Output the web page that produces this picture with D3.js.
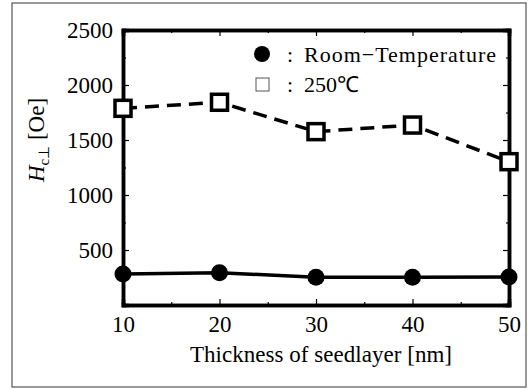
<!DOCTYPE html>
<html><head><meta charset="utf-8">
<script src="https://cdn.jsdelivr.net/npm/d3@7"></script>
<style>body{margin:0;background:#fff;}svg{display:block;} svg text{font-family:"Liberation Serif","Times New Roman",serif !important;}</style>
</head><body><div id="c"></div>
<script>
const thickness = [10, 20, 30, 40, 50];
const roomTemp = [282, 294, 252, 252, 255];
const temp250 = [1788, 1843, 1576, 1636, 1303];
const yTicks = [500, 1000, 1500, 2000, 2500];
const xTicks = [10, 20, 30, 40, 50];
const legendLabels = ["Room\u2212Temperature", "250\u2103"];

const W = 529, H = 389;
const m = {l:123, t:30, r:509, b:305};
const FS = 23;
const FF = "Liberation Serif, serif";
const svg = d3.select("#c").append("svg").attr("width", W).attr("height", H).attr("font-family", FF);

svg.append("rect").attr("x",12).attr("y",3).attr("width",514).attr("height",384)
  .attr("fill","none").attr("stroke","#555").attr("stroke-width",1.2);

const x = d3.scaleLinear().domain([10,50]).range([m.l, m.r]);
const y = d3.scaleLinear().domain([0,2500]).range([m.b, m.t]);

const minorX = d3.range(15, 50, 10);
const minorY = d3.range(250, 2500, 500);

const g = svg.append("g");
g.append("g").attr("transform",`translate(0,${m.b})`)
  .call(d3.axisBottom(x).tickValues(xTicks).tickSize(-6).tickPadding(11).tickFormat(d3.format("d")));
g.append("g").attr("transform",`translate(0,${m.t})`)
  .call(d3.axisTop(x).tickValues(xTicks).tickSize(-6).tickFormat(""));
g.append("g").attr("transform",`translate(${m.l},0)`)
  .call(d3.axisLeft(y).tickValues(yTicks).tickSize(-6).tickPadding(10).tickFormat(d3.format("d")));
g.append("g").attr("transform",`translate(${m.r},0)`)
  .call(d3.axisRight(y).tickValues(yTicks).tickSize(-6).tickFormat(""));
g.append("g").attr("transform",`translate(0,${m.b})`).call(d3.axisBottom(x).tickValues(minorX).tickSize(-3).tickFormat(""));
g.append("g").attr("transform",`translate(0,${m.t})`).call(d3.axisTop(x).tickValues(minorX).tickSize(-3).tickFormat(""));
g.append("g").attr("transform",`translate(${m.l},0)`).call(d3.axisLeft(y).tickValues(minorY).tickSize(-3).tickFormat(""));
g.append("g").attr("transform",`translate(${m.r},0)`).call(d3.axisRight(y).tickValues(minorY).tickSize(-3).tickFormat(""));

g.selectAll("g").attr("font-family", FF);
g.selectAll(".domain").attr("stroke","#000").attr("stroke-width",3.5);
g.selectAll(".tick line").attr("stroke","#000").attr("stroke-width",1.2);
g.selectAll(".tick text").attr("font-size",FS).attr("fill","#000").attr("font-family",FF);

const line = d3.line().x((d,i)=>x(thickness[i])).y(d=>y(d));
svg.append("path").datum(roomTemp).attr("d",line).attr("fill","none").attr("stroke","#000").attr("stroke-width",3.5);
svg.append("path").datum(temp250).attr("d",line).attr("fill","none").attr("stroke","#000").attr("stroke-width",3.5).attr("stroke-dasharray","14,8");

svg.selectAll(".rt").data(roomTemp).join("circle").attr("cx",(d,i)=>x(thickness[i])).attr("cy",d=>y(d)).attr("r",8.5).attr("fill","#000");
svg.selectAll(".t250").data(temp250).join("rect").attr("x",(d,i)=>x(thickness[i])-8).attr("y",d=>y(d)-8)
  .attr("width",16).attr("height",16).attr("fill","#fff").attr("stroke","#000").attr("stroke-width",3.5);

svg.append("circle").attr("cx",262).attr("cy",54).attr("r",8).attr("fill","#000");
svg.append("rect").attr("x",256).attr("y",78).attr("width",13).attr("height",13).attr("fill","none").attr("stroke","#555").attr("stroke-width",1);
svg.append("text").attr("x",287).attr("y",62).attr("font-size",22).text(":");
svg.append("text").attr("x",287).attr("y",92).attr("font-size",22).text(":");
svg.append("text").attr("x",304).attr("y",62).attr("font-size",22).attr("textLength",192).attr("lengthAdjust","spacing").text(legendLabels[0]);
svg.append("text").attr("x",304).attr("y",92).attr("font-size",22).text(legendLabels[1]);

svg.append("text").attr("x",321).attr("y",362).attr("text-anchor","middle").attr("font-size",FS).attr("textLength",262).attr("lengthAdjust","spacing").text("Thickness of seedlayer [nm]");
const yl = svg.append("text").attr("transform","translate(44,140) rotate(-90)").attr("text-anchor","middle").attr("font-size",FS);
yl.append("tspan").attr("font-style","italic").text("H");
yl.append("tspan").attr("font-size",15).attr("dy",5).text("c\u22A5");
yl.append("tspan").attr("dy",-5).text(" [Oe]");
</script></body></html>
